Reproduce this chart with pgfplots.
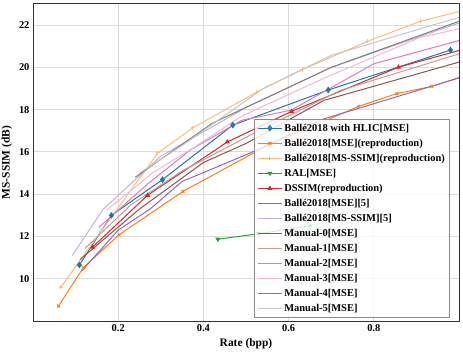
\documentclass[border=0pt]{standalone}
\usepackage{fontspec}
\setmainfont{Liberation Serif}
\usepackage{pgfplots}
\pgfplotsset{compat=1.18}

\definecolor{cblue}{HTML}{1F77B4}
\definecolor{corange}{HTML}{FF7F0E}
\definecolor{clorange}{HTML}{FFBB78}
\definecolor{cgreen}{HTML}{2CA02C}
\definecolor{cred}{HTML}{D62728}
\definecolor{cpurple}{HTML}{9467BD}
\definecolor{clpurple}{HTML}{C5B0D5}
\definecolor{cbrown}{HTML}{8C564B}
\definecolor{clbrown}{HTML}{C49C94}
\definecolor{cpink}{HTML}{E377C2}
\definecolor{clpink}{HTML}{F7B6D2}
\definecolor{cgrey}{HTML}{7F7F7F}
\definecolor{clgrey}{HTML}{C7C7C7}

\begin{document}
\begin{tikzpicture}
\begin{axis}[
  width=426bp, height=317bp, scale only axis,
  xmin=0, xmax=1, ymin=8, ymax=23,
  xtick={0.2,0.4,0.6,0.8}, ytick={10,12,14,16,18,20,22},
  grid=major,
  major grid style={color=black!14, line width=0.9bp},
  axis line style={black!80, line width=1bp},
  major tick length=0pt,
  /pgf/number format/assume math mode=true,
  tick label style={font=\bfseries\fontsize{10.5}{12}\selectfont},
  label style={font=\bfseries\fontsize{11.5}{13}\selectfont},
  xlabel={Rate (bpp)}, ylabel={MS-SSIM (dB)},
  every axis plot/.append style={line width=1bp, mark size=2pt},
  legend cell align=left,
  legend image code/.code={\draw[mark repeat=2,mark phase=2,#1] plot coordinates {(0cm,0cm) (0.42cm,0cm) (0.84cm,0cm)};},
  legend style={at={(0.519,0.636)}, anchor=north west, fill=white, fill opacity=0.8,
    text opacity=1, draw=black!45, line width=0.8bp,
    font=\bfseries\fontsize{10.5}{12}\selectfont, row sep=2.3bp},
]
% Balle2018 with HLIC
\addplot[cblue, mark=diamond*, mark size=2.6pt] coordinates {(0.109,10.65)(0.184,13.0)(0.304,14.69)(0.469,17.27)(0.693,18.93)(0.98,20.82)};
\addlegendentry{Ballé2018 with HLIC[MSE]}
\addplot[corange, mark=x] coordinates {(0.060,8.71)(0.118,10.52)(0.202,12.08)(0.352,14.13)(0.55,16.3)(0.765,18.16)(0.854,18.76)(0.936,19.1)(1.05,19.85)};
\addlegendentry{Ballé2018[MSE](reproduction)}
\addplot[clorange, mark=+] coordinates {(0.065,9.59)(0.16,12.25)(0.293,15.95)(0.375,17.14)(0.525,18.83)(0.632,19.89)(0.785,21.23)(0.909,22.18)(1.05,22.9)};
\addlegendentry{Ballé2018[MS-SSIM](reproduction)}
\addplot[cgreen, mark=triangle*, mark options={rotate=180}] coordinates {(0.434,11.87)(0.53,12.13)(0.65,12.5)};
\addlegendentry{RAL[MSE]}
\addplot[cred, mark=triangle*] coordinates {(0.14,11.5)(0.269,13.95)(0.456,16.47)(0.607,17.92)(0.858,20.01)(1.05,21.08)};
\addlegendentry{DSSIM(reproduction)}
\addplot[cpurple] coordinates {(0.115,10.38)(0.2,12.3)(0.275,13.3)(0.35,14.6)(0.51,15.95)(0.68,17.55)(1.0,19.5)};
\addlegendentry{Ballé2018[MSE][5]}
\addplot[clpurple] coordinates {(0.092,11.1)(0.165,13.3)(0.3,15.8)(0.5,18.1)(0.7,20.0)(1.0,22.1)};
\addlegendentry{Ballé2018[MS-SSIM][5]}
\addplot[cbrown] coordinates {(0.11,10.9)(0.25,13.3)(0.4,15.5)(0.5,16.4)(0.683,18.44)(1.0,20.25)};
\addlegendentry{Manual-0[MSE]}
\addplot[clbrown] coordinates {(0.122,11.43)(0.23,13.5)(0.35,15.1)(0.52,16.9)(0.72,18.9)(1.0,20.64)};
\addlegendentry{Manual-1[MSE]}
\addplot[cpink] coordinates {(0.154,12.42)(0.27,14.5)(0.37,16.1)(0.49,17.5)(0.605,17.97)(0.8,20.17)(1.0,21.27)};
\addlegendentry{Manual-2[MSE]}
\addplot[clpink] coordinates {(0.173,13.24)(0.28,15.0)(0.38,16.24)(0.49,17.7)(0.69,19.55)(0.91,21.43)(1.0,21.82)};
\addlegendentry{Manual-3[MSE]}
\addplot[cgrey] coordinates {(0.24,14.8)(0.42,17.35)(0.7,20.0)(1.0,22.18)};
\addlegendentry{Manual-4[MSE]}
\addplot[clgrey] coordinates {(0.25,15.0)(0.35,16.3)(0.54,19.0)(0.7,20.57)(1.0,22.37)};
\addlegendentry{Manual-5[MSE]}
\end{axis}
\pgfresetboundingbox
\path (-33bp,-33bp) rectangle (430bp,321bp);
\end{tikzpicture}
\end{document}
